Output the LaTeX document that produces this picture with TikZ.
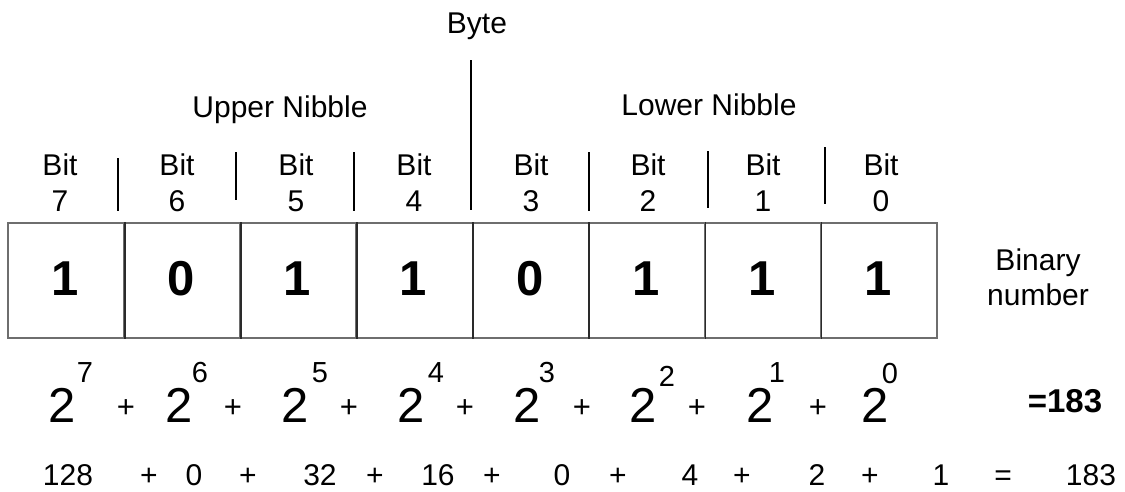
\documentclass[tikz,border=0pt]{standalone}
\usepackage{fontspec}
\setmainfont{Liberation Sans}
\definecolor{boxgray}{HTML}{6E6E6E}
\definecolor{divdark}{HTML}{2A2A2A}
\begin{document}
\begin{tikzpicture}[x=1pt,y=-1pt,
  lbl/.style={anchor=base,inner sep=0pt,font=\fontsize{30}{36}\selectfont},
  sumtxt/.style={anchor=base,inner sep=0pt,font=\fontsize{30}{36}\selectfont},
  bignum/.style={anchor=base,inner sep=0pt,font=\fontsize{49}{56}\selectfont\bfseries},
  basetwo/.style={anchor=base,inner sep=0pt,font=\fontsize{49}{56}\selectfont},
  expo/.style={anchor=base,inner sep=0pt,font=\fontsize{29}{34}\selectfont},
  plustxt/.style={anchor=base,inner sep=0pt,font=\fontsize{31}{36}\selectfont},
  result/.style={anchor=base,inner sep=0pt,font=\fontsize{33}{38}\selectfont\bfseries},
  cell/.style={draw=boxgray,line width=1.6pt,minimum width=116.125pt,minimum height=115pt,inner sep=0pt,anchor=north west},
  divider/.style={draw=divdark,line width=1.6pt},
  sep/.style={draw=black,line width=1.7pt}]
\useasboundingbox (0,0) rectangle (1125,491);

% cells
\foreach \i in {0,...,7} {
  \node[cell] (c\i) at ({7+116.125*\i},222) {};
}
\foreach \i in {0,...,6} {
  \draw[divider] (c\i.north east) -- (c\i.south east);
}

% digits in cells
\foreach \x/\d [count=\k] in {65/1,181/0,297/1,413/1,530/0,646/1,762/1,878/1} {
  \node[bignum] (dig\k) at (\x,295) {\d};
}

% bit labels
\foreach \x/\b [count=\k] in {60/7,177/6,296/5,414/4,531/3,648/2,763/1,881/0} {
  \node[lbl] (bit\k) at (\x,175) {Bit};
  \node[lbl] (bitn\k) at (\x,211) {\b};
}

% titles
\node[lbl] (byte) at (477,33) {Byte};
\node[lbl] (upper) at (280,117) {Upper Nibble};
\node[lbl] (lower) at (709,115) {Lower Nibble};

% separators
\coordinate (s1a) at (118,158); \coordinate (s1b) at (118,211);
\coordinate (s2a) at (236,152); \coordinate (s2b) at (236,200);
\coordinate (s3a) at (354,152); \coordinate (s3b) at (354,211);
\coordinate (s4a) at (471,60);  \coordinate (s4b) at (471,210);
\coordinate (s5a) at (589,152); \coordinate (s5b) at (589,211);
\coordinate (s6a) at (708,151); \coordinate (s6b) at (708,208);
\coordinate (s7a) at (825,147); \coordinate (s7b) at (825,204);
\foreach \i in {1,...,7} { \draw[sep] (s\i a) -- (s\i b); }

% binary number label
\node[lbl] (bin1) at (1038,270) {Binary};
\node[lbl] (bin2) at (1038,305) {number};

% powers row
\foreach \x/\e/\ex/\ey [count=\k] in {62/7/85/382,179/6/200/382,295/5/320/382,411/4/436/382,527/3/547/382,643/2/667/386,760/1/777/382,875/0/890/383} {
  \node[basetwo] (two\k) at (\x,422) {2};
  \node[expo] (exp\k) at (\ex,\ey) {\e};
}
\foreach \x [count=\k] in {126,233,349,465,582,697,818} {
  \node[plustxt] (pp\k) at (\x,417) {+};
}
\node[result] (eqbold) at (1065,412) {=183};

% sum row
\foreach \x/\t [count=\k] in {68/128,149/+,194/0,248/+,320/32,375/+,438/16,492/+,562/0,618/+,690/4,742/+,817/2,870/+,941/1,1003/=,1091/183} {
  \node[sumtxt] (sum\k) at (\x,485) {\t};
}
\end{tikzpicture}
\end{document}
